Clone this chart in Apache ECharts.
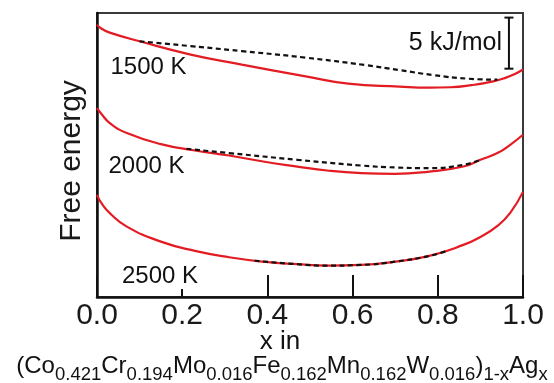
<!DOCTYPE html>
<html>
<head>
<meta charset="utf-8">
<script src="https://cdn.jsdelivr.net/npm/echarts@6/dist/echarts.min.js"></script>
<style>html,body{margin:0;padding:0;background:#fff}#c{width:554px;height:383px}</style>
</head>
<body>
<div id="c"></div>
<script>
// x ticks
const xTicks = [0, 0.2, 0.4, 0.6, 0.8, 1.0];
// 1500 K
const x1500 = [0, 0.01, 0.03, 0.1, 0.22, 0.34, 0.49, 0.59, 0.71, 0.78, 0.83, 0.88, 0.93, 0.96, 0.98, 1.0];
const red1500 = [26.67, 26.28, 25.88, 25.03, 23.73, 22.75, 21.60, 20.88, 20.60, 20.50, 20.53, 20.74, 21.11, 21.47, 21.81, 22.27];
const xd1500 = [0.1, 0.22, 0.34, 0.49, 0.63, 0.71, 0.79, 0.87, 0.94];
const dash1500 = [25.03, 24.56, 24.07, 23.43, 22.70, 22.21, 21.72, 21.37, 21.27];
// 2000 K
const x2000 = [0, 0.01, 0.03, 0.07, 0.15, 0.23, 0.31, 0.39, 0.47, 0.54, 0.62, 0.70, 0.78, 0.86, 0.90, 0.94, 0.97, 1.0];
const red2000 = [18.48, 17.94, 17.03, 16.05, 14.97, 14.34, 13.85, 13.26, 12.77, 12.38, 12.13, 12.06, 12.28, 12.77, 13.43, 14.09, 14.90, 15.88];
const xd2000 = [0.21, 0.31, 0.47, 0.62, 0.70, 0.78, 0.86, 0.90];
const dash2000 = [14.51, 14.09, 13.43, 12.87, 12.68, 12.62, 12.94, 13.43];
// 2500 K
const x2500 = [0, 0.01, 0.03, 0.07, 0.15, 0.23, 0.31, 0.39, 0.47, 0.54, 0.62, 0.70, 0.78, 0.86, 0.90, 0.94, 0.97, 1.0];
const red2500 = [10.0, 9.22, 8.21, 6.89, 5.42, 4.51, 3.89, 3.46, 3.21, 3.07, 3.14, 3.46, 4.02, 5.10, 5.88, 6.96, 8.24, 10.29];
const xd2500 = [0.37, 0.47, 0.54, 0.62, 0.70, 0.78, 0.82];
const dash2500 = [3.55, 3.21, 3.07, 3.14, 3.46, 4.02, 4.5];
// scale bar: x, bottom, top (kJ/mol)
const scaleBar = [[0.967, 22.35, 27.35]];
const scaleText = '5 kJ/mol';
const tempLabels = ['1500 K', '2000 K', '2500 K'];
const yName = 'Free energy';
const xName1 = 'x in';
const formulaParts = [['(Co','0.421'],['Cr','0.194'],['Mo','0.016'],['Fe','0.162'],['Mn','0.162'],['W','0.016'],[')','1-x'],['Ag','x']];

const FONT = '"Liberation Sans", Arial, sans-serif';
const zip = (xs, ys) => xs.map((x, i) => [x, ys[i]]);
const RED = '#e31b23';

function redSeries(xs, ys) {
  return { type: 'line', data: zip(xs, ys), smooth: 0.5, symbol: 'none', z: 2,
    lineStyle: { color: RED, width: 2.2 } };
}
function dashSeries(xs, ys) {
  return { type: 'line', data: zip(xs, ys), smooth: 0.5, symbol: 'none', z: 3,
    lineStyle: { color: '#111', width: 2.2, type: [5, 3.5] } };
}

// formula pieces laid out with measured widths, subscripts lowered
const mctx = document.createElement('canvas').getContext('2d');
function tw(t, size) { mctx.font = size + 'px ' + FONT; return mctx.measureText(t).width; }
const MAIN = 24, SUB = 18.5;
const mainBase = 375, subBase = 381.7;
let total = 0;
formulaParts.forEach(p => { total += tw(p[0], MAIN) + tw(p[1], SUB); });
let cx = 282 - total / 2;
const formulaEls = [];
formulaParts.forEach(p => {
  formulaEls.push({ type: 'text', x: cx, y: mainBase - 0.3465 * MAIN, z: 10,
    style: { text: p[0], font: MAIN + 'px ' + FONT, fill: '#111', align: 'left', verticalAlign: 'middle' } });
  cx += tw(p[0], MAIN);
  formulaEls.push({ type: 'text', x: cx, y: subBase - 0.3465 * SUB, z: 10,
    style: { text: p[1], font: SUB + 'px ' + FONT, fill: '#111', align: 'left', verticalAlign: 'middle' } });
  cx += tw(p[1], SUB);
});

const chart = echarts.init(document.getElementById('c'), null, { renderer: 'canvas' });
chart.setOption({
  animation: false,
  backgroundColor: '#fff',
  grid: { left: 97, right: 31, top: 13, bottom: 86, show: true, borderColor: '#3a3a3a', borderWidth: 2, backgroundColor: 'transparent' },
  xAxis: {
    type: 'value', min: 0, max: 1, interval: 0.2,
    axisLine: { show: true, lineStyle: { color: '#111', width: 2.5 } },
    axisTick: { show: true, inside: true, length: 22, lineStyle: { color: '#111', width: 2 } },
    axisLabel: { fontSize: 30, fontFamily: FONT, color: '#1a1a1a', margin: 4,
      formatter: v => v.toFixed(1) },
    splitLine: { show: false }
  },
  yAxis: {
    type: 'value', min: 0, max: 27.8,
    axisLine: { show: true, lineStyle: { color: '#111', width: 2.5 } },
    axisTick: { show: false }, axisLabel: { show: false }, splitLine: { show: false }
  },
  series: [
    redSeries(x1500, red1500), dashSeries(xd1500, dash1500),
    redSeries(x2000, red2000), dashSeries(xd2000, dash2000),
    redSeries(x2500, red2500), dashSeries(xd2500, dash2500),
    {
      type: 'custom', data: scaleBar, encode: { x: 0, y: [1, 2] }, z: 5,
      renderItem: function (params, api) {
        const t = api.coord([api.value(0), api.value(2)]);
        const b = api.coord([api.value(0), api.value(1)]);
        const w = 4.5;
        const st = { stroke: '#111', lineWidth: 2 };
        return { type: 'group', children: [
          { type: 'line', shape: { x1: t[0], y1: t[1], x2: b[0], y2: b[1] }, style: st },
          { type: 'line', shape: { x1: t[0] - w, y1: t[1], x2: t[0] + w, y2: t[1] }, style: st },
          { type: 'line', shape: { x1: b[0] - w, y1: b[1], x2: b[0] + w, y2: b[1] }, style: st },
          { type: 'text', style: { text: scaleText, x: t[0] - 7, y: (t[1] + b[1]) / 2, align: 'right', verticalAlign: 'middle',
            font: '25px ' + FONT, fill: '#111' } }
        ] };
      }
    }
  ],
  graphic: [
    { type: 'text', x: 72, y: 161, rotation: Math.PI / 2, z: 10,
      style: { text: yName, font: '30px ' + FONT, fill: '#1a1a1a', align: 'center', verticalAlign: 'middle' } },
    { type: 'text', x: 110.5, y: 67.5, z: 10,
      style: { text: tempLabels[0], font: '24px ' + FONT, fill: '#111', align: 'left', verticalAlign: 'middle' } },
    { type: 'text', x: 108.5, y: 166.5, z: 10,
      style: { text: tempLabels[1], font: '24px ' + FONT, fill: '#111', align: 'left', verticalAlign: 'middle' } },
    { type: 'text', x: 120, y: 276, z: 10,
      style: { text: tempLabels[2], font: '24px ' + FONT, fill: '#111', align: 'left', verticalAlign: 'middle',
        backgroundColor: '#fff', padding: [0, 2, 2, 2] } },
    { type: 'text', x: 280, y: 342, z: 10,
      style: { text: xName1, font: '26px ' + FONT, fill: '#111', align: 'center', verticalAlign: 'middle' } }
  ].concat(formulaEls)
});
</script>
</body>
</html>
